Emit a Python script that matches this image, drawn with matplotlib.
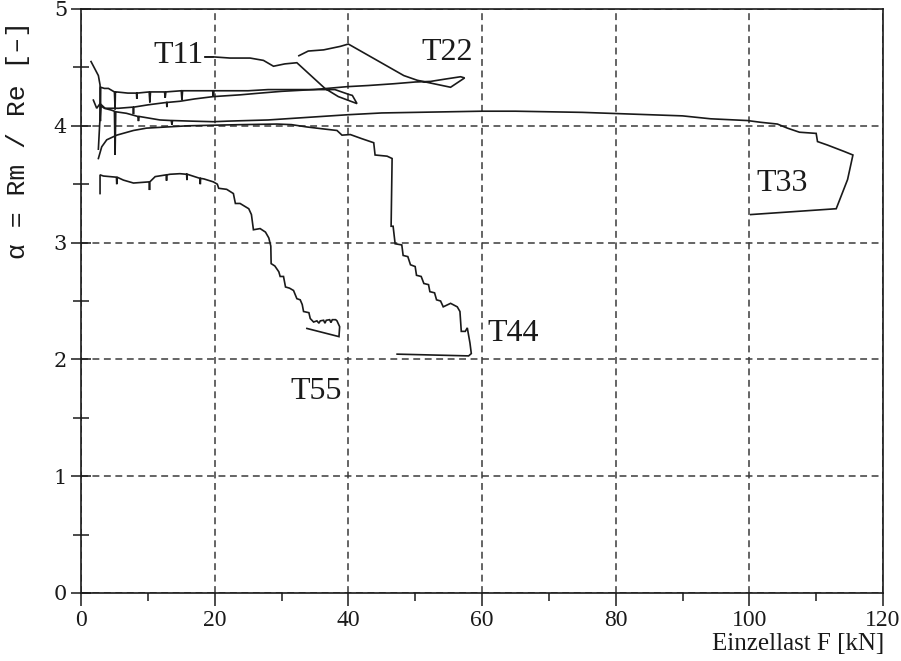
import matplotlib
matplotlib.use("Agg")
import matplotlib.pyplot as plt
from matplotlib.ticker import MultipleLocator

# ---- data ----
t11_x = [1.5, 2.6, 2.85, 2.9, 2.95, 3.5, 4.1, 5.0, 5.1, 5.15, 5.3, 7.0, 8.3, 8.35, 8.4,
         10.2, 10.3, 10.4, 12.5, 12.6, 12.7, 15.0, 15.1, 15.2, 17.5, 19.7, 19.8, 19.9,
         22.0, 25.0, 28.0, 31.0, 34.0, 36.5, 38.0, 40.0, 40.6, 41.3, 38.5, 36.5, 32.3,
         30.5, 28.8, 27.3, 25.3, 22.3, 19.8, 18.6]
t11_y = [4.55, 4.43, 4.35, 4.04, 4.33, 4.32, 4.32, 4.29, 4.14, 4.29, 4.29, 4.28, 4.28, 4.23, 4.28,
         4.29, 4.20, 4.29, 4.29, 4.24, 4.29, 4.30, 4.22, 4.30, 4.30, 4.30, 4.25, 4.30,
         4.30, 4.30, 4.31, 4.31, 4.31, 4.31, 4.31, 4.27, 4.26, 4.19, 4.25, 4.32, 4.54,
         4.53, 4.51, 4.56, 4.58, 4.58, 4.59, 4.59]

t22_x = [1.85, 2.35, 2.85, 3.6, 5.6, 7.8, 7.85, 7.9, 10.1, 12.8, 12.85, 12.9, 14.8, 17.0,
         19.8, 23.8, 26.8, 30.0, 34.8, 39.8, 43.0, 46.8, 50.0, 52.3, 54.5, 56.8, 57.4,
         55.3, 52.8, 50.3, 48.3, 44.0, 40.0, 38.8, 36.3, 34.0, 32.6]
t22_y = [4.22, 4.15, 4.19, 4.15, 4.15, 4.16, 4.10, 4.16, 4.18, 4.20, 4.16, 4.20, 4.21, 4.23,
         4.25, 4.265, 4.28, 4.295, 4.31, 4.335, 4.345, 4.36, 4.375, 4.38, 4.40, 4.42, 4.41,
         4.33, 4.36, 4.39, 4.43, 4.57, 4.70, 4.68, 4.65, 4.64, 4.60]

t33_x = [2.6, 2.8, 3.0, 3.5, 4.5, 5.0, 5.1, 5.2, 6.8, 8.5, 8.6, 8.7, 11.8, 13.5, 13.6, 13.7,
         16.5, 19.8, 22.0, 25.0, 28.0, 32.0, 36.0, 40.0, 45.0, 50.0, 55.0, 60.0, 65.0,
         70.0, 75.0, 80.0, 85.0, 90.0, 94.2, 99.7, 101.7, 104.2, 105.7, 107.5, 110.0,
         110.2, 111.7, 114.2, 115.5, 114.7, 113.0, 100.2]
t33_y = [3.80, 4.02, 4.17, 4.15, 4.135, 4.125, 3.75, 4.12, 4.107, 4.08, 4.04, 4.08, 4.05,
         4.045, 4.01, 4.045, 4.04, 4.035, 4.04, 4.045, 4.05, 4.065, 4.08, 4.095, 4.11,
         4.115, 4.12, 4.125, 4.125, 4.12, 4.115, 4.105, 4.095, 4.085, 4.06, 4.045, 4.03,
         4.015, 3.98, 3.945, 3.935, 3.865, 3.835, 3.78, 3.75, 3.54, 3.29, 3.24]

t44_x = [2.6, 3.1, 3.85, 5.35, 7.85, 9.8, 12.8, 16.0, 19.8, 24.0, 29.3, 31.5, 33.8, 36.0,
         38.3, 39.05, 40.3, 42.0, 43.8, 44.0, 45.8, 46.55, 46.4, 46.7, 47.0, 48.0, 48.2,
         48.9, 49.3, 50.0, 50.2, 50.9, 51.3, 52.0, 52.2, 52.9, 53.2, 53.8, 54.2, 55.3,
         56.3, 56.7, 56.9, 57.5, 57.8, 58.2, 58.4, 58.0, 47.3]
t44_y = [3.72, 3.82, 3.88, 3.92, 3.96, 3.98, 3.99, 4.00, 4.005, 4.01, 4.015, 4.01, 3.99, 3.975,
         3.96, 3.92, 3.925, 3.89, 3.855, 3.75, 3.74, 3.72, 3.14, 3.14, 2.99, 2.98, 2.89,
         2.88, 2.81, 2.795, 2.72, 2.71, 2.65, 2.64, 2.58, 2.57, 2.51, 2.50, 2.45, 2.48,
         2.45, 2.41, 2.24, 2.24, 2.27, 2.14, 2.05, 2.03, 2.045]

t55_x = [2.85, 2.85, 3.35, 5.3, 5.35, 5.4, 6.35, 7.85, 10.2, 10.25, 10.3, 11.1, 12.75, 12.8,
         12.85, 13.3, 14.8, 15.8, 15.85, 15.9, 17.8, 17.85, 17.9, 18.4, 19.8, 20.4, 20.6,
         21.8, 22.8, 23.1, 23.8, 25.1, 25.5, 25.8, 26.8, 27.6, 28.1, 28.4, 28.45, 29.0,
         29.6, 29.8, 30.3, 30.6, 31.2, 31.8, 32.3, 32.8, 33.1, 33.3, 34.1, 34.3, 34.8,
         35.3, 35.6, 35.8, 36.3, 36.5, 36.7, 37.2, 37.4, 37.6, 38.1, 38.3, 38.7, 38.6, 33.8]
t55_y = [3.42, 3.58, 3.57, 3.56, 3.50, 3.56, 3.535, 3.51, 3.52, 3.45, 3.52, 3.565, 3.58, 3.53,
         3.58, 3.585, 3.59, 3.585, 3.535, 3.585, 3.55, 3.50, 3.55, 3.545, 3.52, 3.50, 3.465,
         3.456, 3.42, 3.335, 3.335, 3.29, 3.24, 3.11, 3.12, 3.09, 3.04, 2.97, 2.82, 2.80,
         2.75, 2.71, 2.71, 2.62, 2.61, 2.59, 2.52, 2.51, 2.47, 2.41, 2.40, 2.35, 2.32,
         2.33, 2.31, 2.33, 2.335, 2.31, 2.335, 2.34, 2.315, 2.34, 2.34, 2.33, 2.28, 2.195, 2.265]

series = [(t11_x, t11_y), (t22_x, t22_y), (t33_x, t33_y), (t44_x, t44_y), (t55_x, t55_y)]

label_names = ["T11", "T22", "T33", "T44", "T55"]
label_x = [18.3, 54.8, 104.9, 64.6, 35.2]
label_y = [4.60, 4.63, 3.51, 2.226, 1.724]
label_ha = ["right", "center", "center", "center", "center"]

x_ticks = [0, 20, 40, 60, 80, 100, 120]
y_ticks = [0, 1, 2, 3, 4, 5]

# ---- figure ----
fig = plt.figure(figsize=(9.01, 6.61), dpi=100)
ax = fig.add_axes([81/901, 1-593/661, (883-81)/901, (593-9)/661])

ink = "#1a1a1a"
for xs, ys in series:
    ax.plot(xs, ys, color=ink, lw=1.2, solid_joinstyle="miter")

# leader line of T11 label
ax.plot([18.6, 19.8], [4.59, 4.59], color=ink, lw=1.2)

for name, lx, ly, ha in zip(label_names, label_x, label_y, label_ha):
    ax.text(lx, ly, name, ha=ha, va="center", fontsize=23,
            family="Liberation Serif", color=ink)

ax.set_xlim(0, 120)
ax.set_ylim(0, 5)
ax.set_xticks(x_ticks)
ax.set_yticks(y_ticks)
ax.xaxis.set_minor_locator(MultipleLocator(10))
ax.yaxis.set_minor_locator(MultipleLocator(0.5))

ax.grid(True, which="major", color="#3a3a3a", lw=1.1, linestyle=(0, (4.5, 3)))

for s in ax.spines.values():
    s.set_color(ink)
    s.set_linewidth(1.2)

ax.tick_params(axis="x", which="major", direction="out", length=9, width=1.1,
               color=ink, pad=3, labelsize=17)
ax.tick_params(axis="x", which="minor", direction="out", length=6, width=1.1, color=ink)
ax.tick_params(axis="y", which="major", direction="inout", length=14, width=1.1,
               color=ink, pad=3, labelsize=15)
ax.tick_params(axis="y", which="minor", direction="inout", length=12, width=1.1, color=ink)

for lab in ax.get_xticklabels():
    lab.set_family("Liberation Serif")
    lab.set_color(ink)
for lab in ax.get_yticklabels():
    lab.set_family("DejaVu Serif")
    lab.set_color(ink)

ax.set_ylabel("α = Rm / Re [–]", family=["Liberation Mono", "DejaVu Sans Mono"],
              fontsize=19, color=ink)
ax.yaxis.set_label_coords(-0.063, 0.775)

ax.set_xlabel("Einzellast F [kN]", family="Liberation Serif", fontsize=18, color=ink)
ax.xaxis.set_label_coords(1.002, -0.068)
ax.xaxis.label.set_ha("right")
ax.xaxis.label.set_va("top")

fig.savefig("out.png", dpi=100, facecolor="white")
